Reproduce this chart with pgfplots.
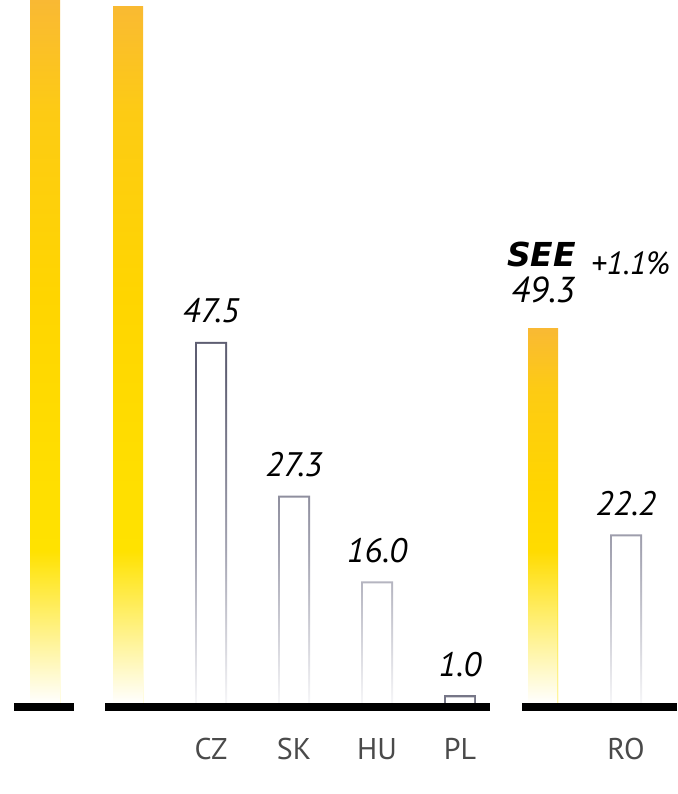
\documentclass[border=0pt]{standalone}
\usepackage{pgfplots}
\pgfplotsset{compat=1.18}
\usepackage{fontspec}
\setmainfont{PT Sans}
\newfontfamily\seefont{DejaVu Sans}
\usetikzlibrary{fadings}

\definecolor{ytop}{HTML}{F9B934}
\definecolor{yup}{HTML}{FDCB14}
\definecolor{ymid}{HTML}{FFD500}
\definecolor{ylow}{HTML}{FFE200}
\definecolor{ybot}{HTML}{FFE600}
\definecolor{ltop}{HTML}{5E5E72}
\definecolor{lmid}{HTML}{A4A4B2}
\definecolor{lbot}{HTML}{F6F6F8}
\definecolor{labgray}{HTML}{4A4A4A}
\tikzfading[name=fadeup, top color=transparent!100, bottom color=transparent!0]
\pgfdeclareverticalshading{yellowbar}{100bp}{color(0bp)=(ybot); color(25bp)=(ybot);
  color(36bp)=(ylow); color(54bp)=(ymid); color(67bp)=(yup); color(75bp)=(ytop); color(100bp)=(ytop)}
\pgfdeclareverticalshading{linebar}{100bp}{color(0bp)=(lbot); color(25bp)=(lbot);
  color(46bp)=(lmid); color(71bp)=(ltop); color(100bp)=(ltop)}

\begin{document}
\begin{tikzpicture}
\begin{axis}[
    name=ax,
    scale only axis,
    width=677pt, height=703pt,
    xmin=-0.5422, xmax=7.6145,
    ymin=0, ymax=92.5,
    ybar, bar width=0.3614,
    clip=false,
    hide y axis,
    axis x line*=bottom,
    x axis line style={draw=none},
    xtick style={draw=none},
    xtick={2,3,4,5,7},
    xticklabels={CZ,SK,HU,PL,RO},
    xticklabel style={font=\fontsize{30}{30}\selectfont, text=labgray, anchor=base, inner sep=0pt, yshift=-52pt},
    /pgf/number format/assume math mode=true,
    every node near coord/.append style={anchor=base, inner sep=0pt, text=black},
    countrylab/.style={
      nodes near coords={\pgfmathprintnumber[fixed,fixed zerofill,precision=1]{\pgfplotspointmeta}},
      every node near coord/.append style={yshift=19pt, font=\fontsize{34}{34}\selectfont\itshape}},
  ]
  % yellow bars (regional totals)
  \addplot[bar shift=0pt, draw=none, shade, shading=yellowbar]
    coordinates {(0,92.5) (1,91.7)};
  \addplot[bar shift=0pt, draw=none, shade, shading=yellowbar,
    nodes near coords={\pgfmathprintnumber[fixed,fixed zerofill,precision=1]{\pgfplotspointmeta}},
    every node near coord/.append style={yshift=26pt, font=\fontsize{36}{36}\selectfont\itshape}]
    coordinates {(6,49.3)};
  % white fade at the foot of the yellow bars
  \addplot[bar shift=0pt, draw=none, fill=white, path fading=fadeup]
    coordinates {(0,20) (1,20) (6,20)};

  % outlined country bars: shaded outer bar, white inner bar
  \addplot[bar shift=0pt, bar width=0.3855, draw=none, shade, shading=linebar, countrylab]
    coordinates {(2,47.5) (3,27.3) (4,16.0) (7,22.2)};
  \addplot[bar shift=0pt, bar width=0.3855, draw=none, fill=ltop!85, countrylab]
    coordinates {(5,1.0)};
  \addplot[bar shift=0pt, bar width=0.3373, draw=none, fill=white]
    coordinates {(2,47.237) (3,27.037) (4,15.737) (5,0.737) (7,21.937)};

  \node[anchor=base west, inner sep=0pt, xshift=-36pt, yshift=62pt,
    font=\seefont\fontsize{33}{33}\selectfont\bfseries\itshape] at (axis cs:6,49.3) {SEE};
  \node[anchor=base west, inner sep=0pt, xshift=48pt, yshift=54pt,
    font=\fontsize{32}{32}\selectfont\itshape] at (axis cs:6,49.3) {+1.1\%};

  % baseline segments
  \draw[line width=8pt] ([yshift=-4pt]axis cs:-0.3735,0) -- ([yshift=-4pt]axis cs:0.349,0);
  \draw[line width=8pt] ([yshift=-4pt]axis cs:0.723,0) -- ([yshift=-4pt]axis cs:5.361,0);
  \draw[line width=8pt] ([yshift=-4pt]axis cs:5.747,0) -- ([yshift=-4pt]axis cs:7.6145,0);
\end{axis}
\pgfresetboundingbox
\path[use as bounding box] (ax.south west) ++(0,-91pt) rectangle (ax.north east);
\end{tikzpicture}
\end{document}
